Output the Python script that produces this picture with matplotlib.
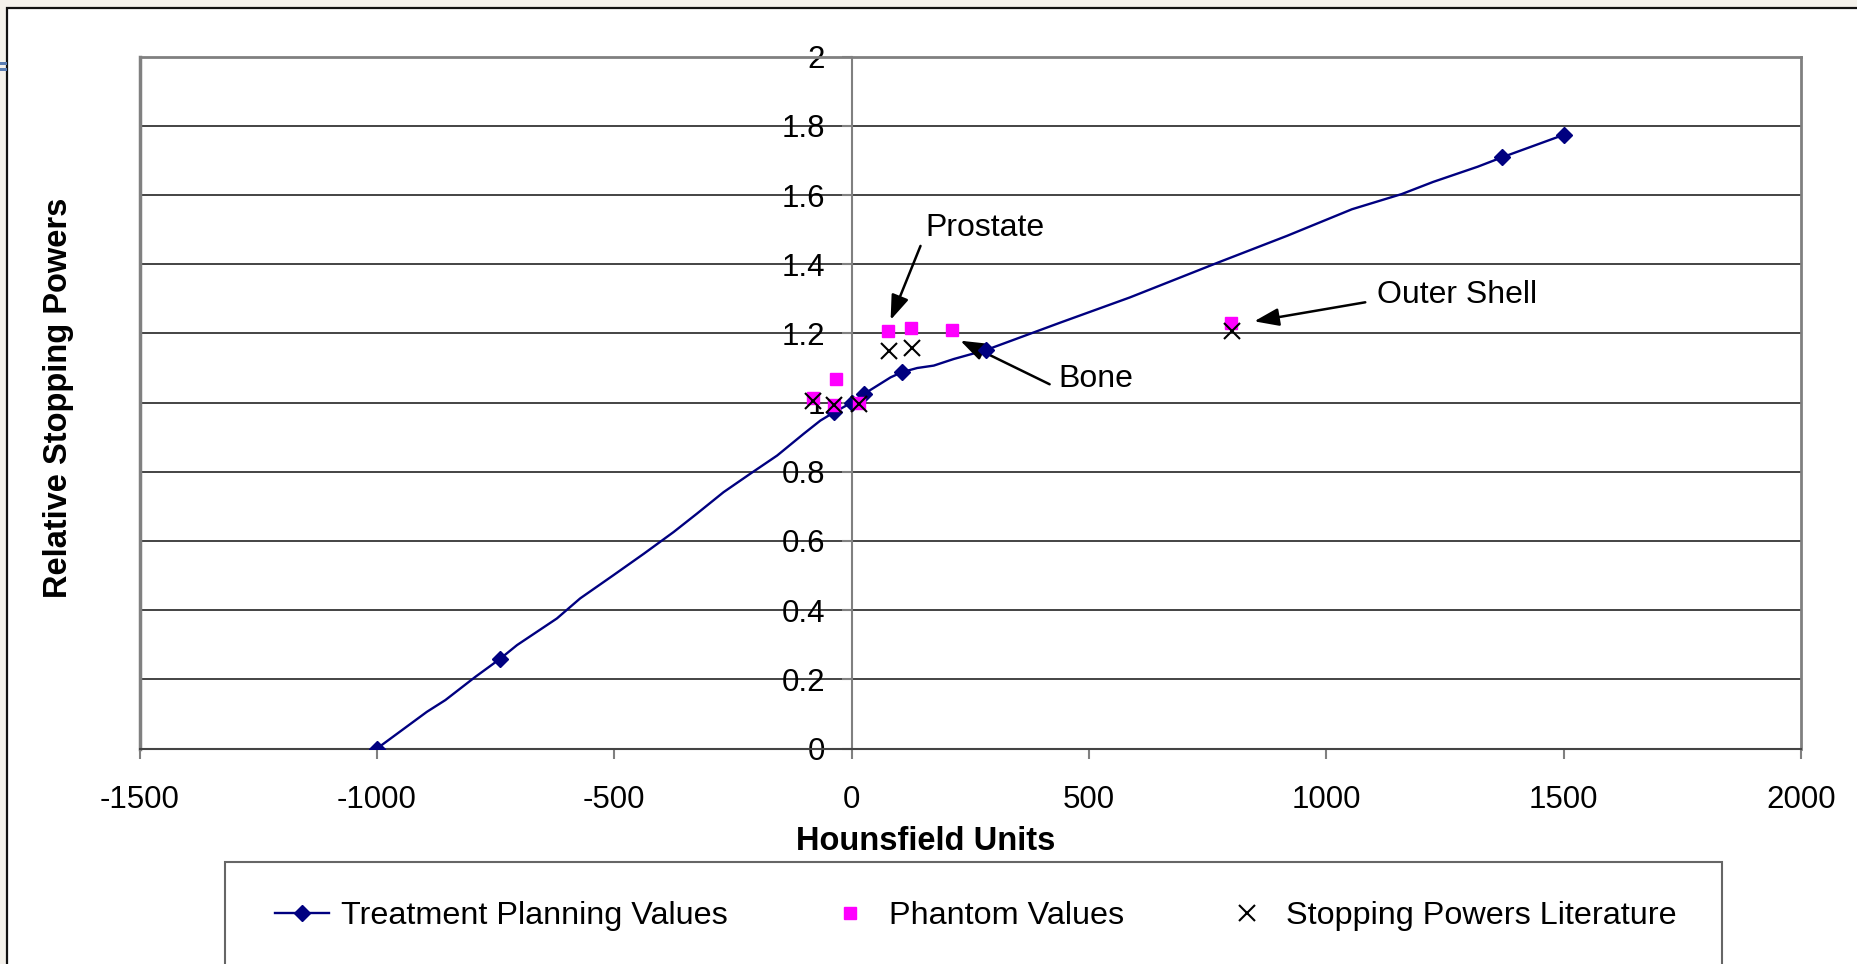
import matplotlib
matplotlib.use('Agg')
import matplotlib.pyplot as plt
from matplotlib.patches import Rectangle
from matplotlib.lines import Line2D

plt.rcParams['font.family'] = ['Liberation Sans', 'DejaVu Sans']
plt.rcParams['axes.unicode_minus'] = False

# treatment planning table (marker points)
tp_hu = [-1000, -740, -37, 0, 26, 106, 283, 1370, 1500]
tp_rsp = [0.0, 0.26, 0.972, 1.0, 1.025, 1.088, 1.152, 1.709, 1.774]

# the drawn (smoothed) curve through them
curve_hu = [-1000, -895, -856, -793, -740, -705, -621, -572, -502, -438, -375,
            -326, -270, -214, -157, -101, -66, -37, 0, 26, 54, 82, 106, 138,
            173, 215, 283, 441, 586, 772, 917, 1054, 1159, 1225, 1319, 1370, 1500]
curve_rsp = [0.0, 0.106, 0.140, 0.207, 0.26, 0.299, 0.376, 0.434, 0.501, 0.563,
             0.626, 0.679, 0.741, 0.794, 0.847, 0.910, 0.948, 0.972, 1.0, 1.025,
             1.049, 1.073, 1.088, 1.100, 1.107, 1.126, 1.152, 1.232, 1.304,
             1.405, 1.482, 1.559, 1.603, 1.638, 1.682, 1.709, 1.774]

phantom_hu = [-82, -38, -34, 16, 76, 125, 212, 799]
phantom_rsp = [1.014, 0.994, 1.068, 0.998, 1.206, 1.217, 1.211, 1.231]

lit_hu = [-82, -37, 16, 79, 127, 802]
lit_rsp = [1.006, 0.992, 0.995, 1.148, 1.157, 1.207]

x_ticks = [-1500, -1000, -500, 0, 500, 1000, 1500, 2000]
y_ticks = [0, 0.2, 0.4, 0.6, 0.8, 1, 1.2, 1.4, 1.6, 1.8, 2]

W, H = 1857, 964
fig = plt.figure(figsize=(W / 100, H / 100), dpi=100, facecolor='#f4f1eb')

def fx(px):
    return px / W

def fy(py):
    return 1 - py / H

# white chart area (runs off right and bottom edges)
fig.patches.append(Rectangle((fx(7), fy(1000)), fx(1900), fy(8) - fy(1000),
                             transform=fig.transFigure, facecolor='white',
                             edgecolor='#111111', lw=1.6, zorder=-5))
# bits of slide decoration on the far left
for y0 in (62, 68):
    fig.patches.append(Rectangle((0, fy(y0 + 3)), fx(7), 3 / H,
                                 transform=fig.transFigure, facecolor='#5a7db2',
                                 edgecolor='none', zorder=-4))

ax = fig.add_axes([fx(139.7), fy(748.5), fx(1801) - fx(139.7), fy(56.7) - fy(748.5)])
ax.set_zorder(2)
ax.set_facecolor('white')
ax.set_xlim(-1500, 2000)
ax.set_ylim(0, 2)

for y in y_ticks[1:]:
    ax.axhline(y, color='#111111', lw=1.1, zorder=1)

ax.plot(curve_hu, curve_rsp, color='#000080', lw=1.7, zorder=3)
ax.plot(tp_hu, tp_rsp, ls='none', marker='D', ms=8, color='#000080', zorder=4)
ax.plot(phantom_hu, phantom_rsp, ls='none', marker='s', ms=8,
        color='#ff00ff', mec='#ff00ff', zorder=5)
ax.plot(lit_hu, lit_rsp, ls='none', marker='x', ms=12, mew=1.5,
        color='black', zorder=6)

# y axis crosses at x = 0
ax.spines['left'].set_position(('data', 0))
ax.spines['left'].set_color('#808080')
ax.spines['left'].set_linewidth(1.5)
for s in ('top', 'right'):
    ax.spines[s].set_color('#808080')
    ax.spines[s].set_linewidth(2)
ax.spines['bottom'].set_color('#444444')
ax.spines['bottom'].set_linewidth(1.5)
ax.axvline(-1500, color='#808080', lw=2.5, clip_on=False, zorder=2)

ax.set_xticks(x_ticks)
ax.set_yticks(y_ticks)
ax.set_yticklabels(['%g' % v for v in y_ticks])
ax.tick_params(axis='both', labelsize=22.5, color='#808080', width=1.5,
               length=7, direction='out')
ax.tick_params(axis='x', pad=19)
ax.tick_params(axis='y', pad=12)

fig.text(fx(926), fy(842), 'Hounsfield Units', fontsize=23.5, fontweight='bold',
         ha='center', va='center')
fig.text(fx(58.5), fy(398), 'Relative Stopping Powers', fontsize=23.5,
         fontweight='bold', rotation=90, ha='center', va='center')

# annotations
arrow = dict(arrowstyle='-|>,head_length=0.5,head_width=0.18', color='black',
             lw=1.8, mutation_scale=30, shrinkA=0, shrinkB=0)
ax.annotate('', xy=(82, 1.239), xytext=(145, 1.453), arrowprops=arrow)
ax.text(155, 1.505, 'Prostate', fontsize=23, ha='left', va='center')
ax.annotate('', xy=(229, 1.179), xytext=(417, 1.053), arrowprops=arrow)
ax.text(435, 1.067, 'Bone', fontsize=23, ha='left', va='center')
ax.annotate('', xy=(848, 1.235), xytext=(1082, 1.29), arrowprops=arrow)
ax.text(1106, 1.311, 'Outer Shell', fontsize=23, ha='left', va='center')

# legend box, cut off at the bottom like the original
fig.patches.append(Rectangle((fx(225), fy(1000)), fx(1722) - fx(225), fy(862) - fy(1000),
                             transform=fig.transFigure, facecolor='white',
                             edgecolor='#666666', lw=1.5, zorder=1))
handles = [
    Line2D([], [], color='#000080', lw=1.7, marker='D', ms=8),
    Line2D([], [], ls='none', marker='s', ms=8, color='#ff00ff'),
    Line2D([], [], ls='none', marker='x', ms=12, mew=1.5, color='black'),
]
labels = ['Treatment Planning Values', 'Phantom Values', 'Stopping Powers Literature']
leg = fig.legend(handles, labels, ncol=3, loc='center left',
                 bbox_to_anchor=(fx(275), fy(916)), bbox_transform=fig.transFigure,
                 frameon=False, fontsize=23.3, borderpad=0, borderaxespad=0,
                 handlelength=1.67, handletextpad=0.355, columnspacing=2.97)
leg.set_zorder(3)

fig.savefig('out.png', dpi=100, facecolor=fig.get_facecolor())
